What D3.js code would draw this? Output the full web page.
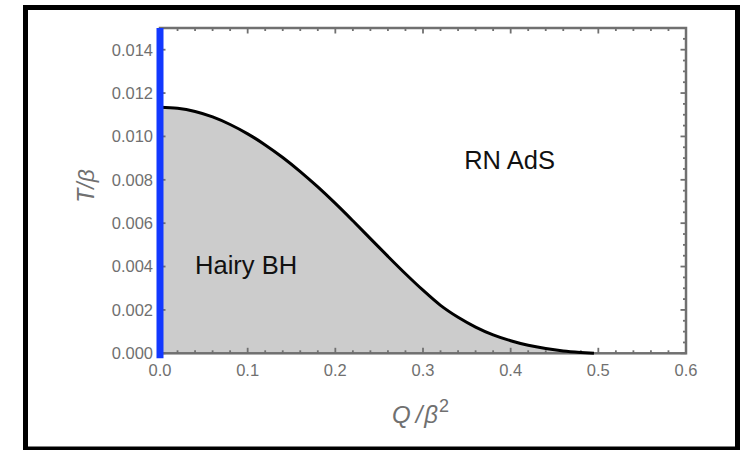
<!DOCTYPE html>
<html>
<head>
<meta charset="utf-8">
<script src="https://cdn.jsdelivr.net/npm/d3@7"></script>
<style>
  body { margin: 0; background: #fff; }
  svg { display: block; }
  text { font-family: "Liberation Sans", Arial, sans-serif; }
</style>
</head>
<body>
<div id="chart"></div>
<script>
// Phase boundary: Q/beta^2 against T/beta
const qValues = [0, 0.02, 0.04, 0.06, 0.08, 0.10, 0.12, 0.14, 0.16, 0.18, 0.20, 0.22, 0.24,
  0.26, 0.28, 0.30, 0.32, 0.34, 0.36, 0.38, 0.40, 0.42, 0.44, 0.46, 0.48, 0.495];
const tValues = [0.01135, 0.01130, 0.01115, 0.01090, 0.01055, 0.01012, 0.00961, 0.00903,
  0.00838, 0.00767, 0.00691, 0.00611, 0.00529, 0.00447, 0.00367, 0.00291, 0.00221,
  0.00166, 0.00121, 0.00085, 0.00058, 0.00037, 0.00022, 0.00011, 0.00004, 0];

const xTicks = [0, 0.1, 0.2, 0.3, 0.4, 0.5, 0.6];
const yTicks = [0, 0.002, 0.004, 0.006, 0.008, 0.010, 0.012, 0.014];
const xDomain = [0, 0.6];
const yDomain = [0, 0.015];

const regionLabels = [
  { text: "Hairy BH", q: 0.040, t: 0.00365 },
  { text: "RN AdS", q: 0.347, t: 0.00852 }
];

const width = 750, height = 450;
const plot = { left: 160, right: 686, top: 28, bottom: 353.3 };
const frameGray = "#707070";

const svg = d3.select("#chart").append("svg")
  .attr("width", width)
  .attr("height", height);

const x = d3.scaleLinear().domain(xDomain).range([plot.left, plot.right]);
const y = d3.scaleLinear().domain(yDomain).range([plot.bottom, plot.top]);

const data = qValues.map((q, i) => ({ q: q, t: tValues[i] }));

// outer black border
svg.append("rect")
  .attr("x", 25.5).attr("y", 7.5)
  .attr("width", 712).attr("height", 441.5)
  .attr("fill", "none")
  .attr("stroke", "#000")
  .attr("stroke-width", 5);

// shaded hairy region
svg.append("path")
  .datum(data)
  .attr("fill", "#cccccc")
  .attr("d", d3.area()
    .x(d => x(d.q))
    .y0(y(0))
    .y1(d => y(d.t))
    .curve(d3.curveMonotoneX));

// frame
svg.append("rect")
  .attr("x", plot.left).attr("y", plot.top)
  .attr("width", plot.right - plot.left)
  .attr("height", plot.bottom - plot.top)
  .attr("fill", "none")
  .attr("stroke", frameGray)
  .attr("stroke-width", 2.5);

// ticks pointing inwards on all four sides
const xMinor = d3.range(0, 0.6001, 0.02).filter(v => Math.abs(v * 10 - Math.round(v * 10)) > 1e-6);
const yMinor = d3.range(0, 0.01501, 0.0005).filter(v => Math.abs(v / 0.002 - Math.round(v / 0.002)) > 1e-6);

const ticks = svg.append("g")
  .attr("stroke", frameGray)
  .attr("stroke-width", 1.8);

function xTick(v, len) {
  ticks.append("line").attr("x1", x(v)).attr("x2", x(v))
    .attr("y1", plot.bottom).attr("y2", plot.bottom - len);
  ticks.append("line").attr("x1", x(v)).attr("x2", x(v))
    .attr("y1", plot.top).attr("y2", plot.top + len);
}
function yTick(v, len) {
  ticks.append("line").attr("y1", y(v)).attr("y2", y(v))
    .attr("x1", plot.left).attr("x2", plot.left + len);
  ticks.append("line").attr("y1", y(v)).attr("y2", y(v))
    .attr("x1", plot.right).attr("x2", plot.right - len);
}
xTicks.forEach(v => xTick(v, 5.5));
xMinor.forEach(v => xTick(v, 3));
yTicks.forEach(v => yTick(v, 5.5));
yMinor.forEach(v => yTick(v, 3));

// boundary curve
svg.append("path")
  .datum(data)
  .attr("fill", "none")
  .attr("stroke", "#000")
  .attr("stroke-width", 3)
  .attr("d", d3.line()
    .x(d => x(d.q))
    .y(d => y(d.t))
    .curve(d3.curveMonotoneX));

// blue line along Q = 0
svg.append("line")
  .attr("x1", x(0)).attr("x2", x(0))
  .attr("y1", y(yDomain[1]))
  .attr("y2", y(0) + 5)
  .attr("stroke", "#1238ff")
  .attr("stroke-width", 7);

// tick labels
svg.append("g").selectAll("text")
  .data(xTicks)
  .enter().append("text")
  .attr("x", d => x(d))
  .attr("y", 375.5)
  .attr("text-anchor", "middle")
  .attr("fill", frameGray)
  .style("font-size", "16.5px")
  .text(d => d3.format(".1f")(d));

svg.append("g").selectAll("text")
  .data(yTicks)
  .enter().append("text")
  .attr("x", 153)
  .attr("y", d => y(d))
  .attr("dy", "0.36em")
  .attr("text-anchor", "end")
  .attr("fill", frameGray)
  .style("font-size", "16.5px")
  .text(d => d3.format(".3f")(d));

// region labels
svg.append("g").selectAll("text")
  .data(regionLabels)
  .enter().append("text")
  .attr("x", d => x(d.q))
  .attr("y", d => y(d.t))
  .attr("fill", "#111")
  .style("font-size", "25.5px")
  .text(d => d.text);

// axis labels
const yLabel = svg.append("text")
  .attr("transform", "translate(94,186) rotate(-90)")
  .attr("text-anchor", "middle")
  .attr("fill", frameGray)
  .style("font-size", "23px")
  .style("font-style", "italic");
yLabel.append("tspan").text("T");
yLabel.append("tspan").text("/");
yLabel.append("tspan").text("β");

const xLabel = svg.append("text")
  .attr("x", 392)
  .attr("y", 423)
  .attr("fill", frameGray)
  .style("font-size", "24px")
  .style("font-style", "italic");
xLabel.append("tspan").text("Q");
xLabel.append("tspan").attr("dx", 5).text("/");
xLabel.append("tspan").attr("dx", 2).text("β");
xLabel.append("tspan").attr("dx", 1).attr("dy", -11).style("font-size", "18px").style("font-style", "normal").text("2");
</script>
</body>
</html>
